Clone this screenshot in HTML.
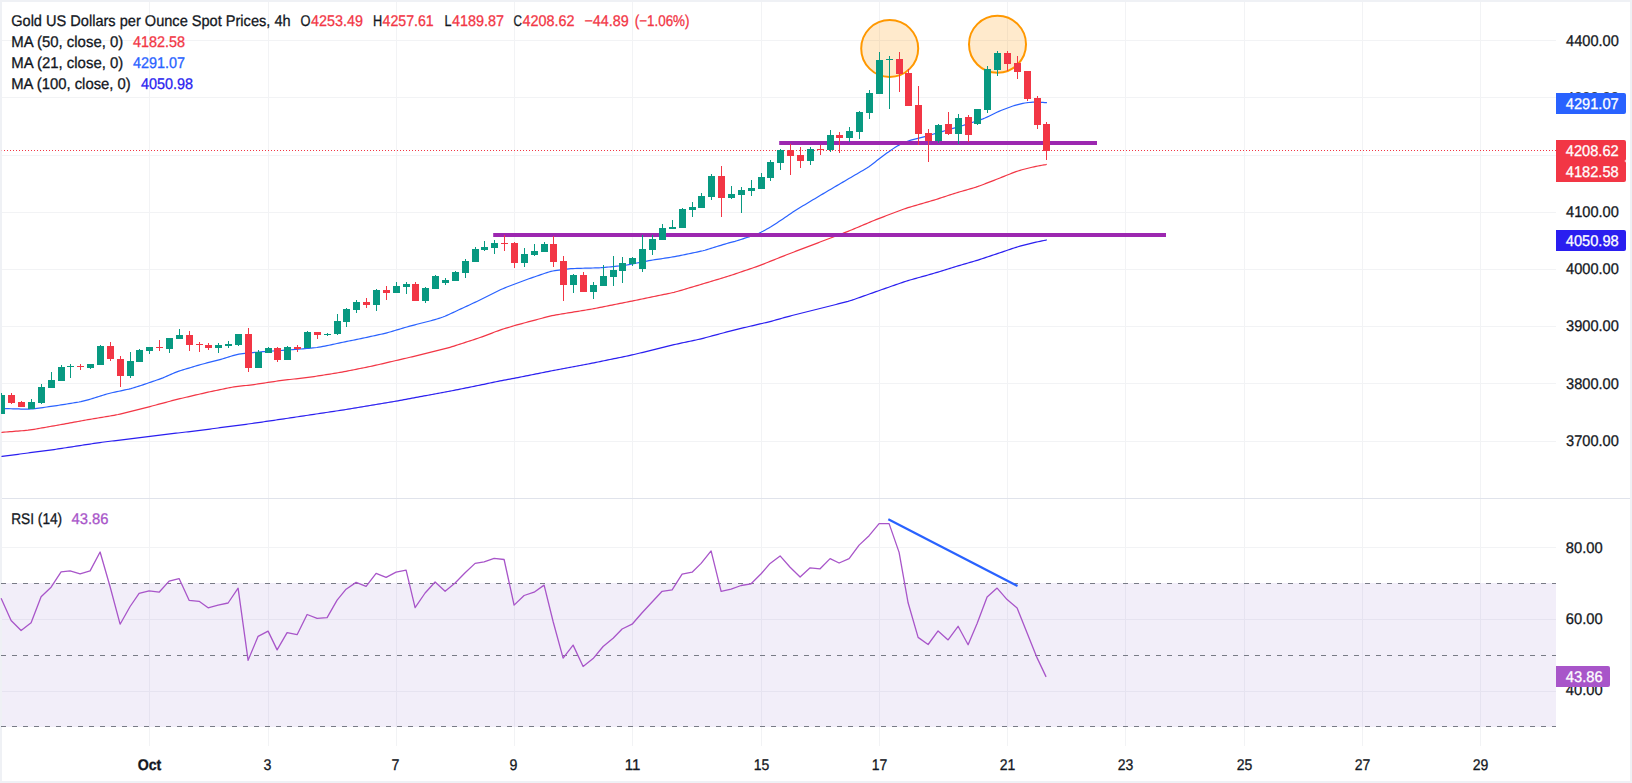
<!DOCTYPE html>
<html lang="en"><head><meta charset="utf-8"><title>Gold US Dollars per Ounce Spot Prices, 4h</title>
<style>html,body{margin:0;padding:0;background:#fff}body{width:1632px;height:783px;overflow:hidden}svg{display:block}text{text-rendering:geometricPrecision;font-family:"Liberation Sans",sans-serif;font-size:15.5px}</style>
</head><body>
<svg width="1632" height="783" viewBox="0 0 1632 783">
<rect x="0" y="0" width="1632" height="783" fill="#ffffff"/>
<path d="M0 0H1632V783H0z M2 2V781H1630V2z" fill="#eff1f5" fill-rule="evenodd"/>
<path d="M149 2h1v744h-1z M268 2h1v744h-1z M396 2h1v744h-1z M514 2h1v744h-1z M632 2h1v744h-1z M761 2h1v744h-1z M879 2h1v744h-1z M1007 2h1v744h-1z M1125 2h1v744h-1z M1244 2h1v744h-1z M1362 2h1v744h-1z M1480 2h1v744h-1z M2 40h1554v1h-1554z M2 97h1554v1h-1554z M2 155h1554v1h-1554z M2 212h1554v1h-1554z M2 269h1554v1h-1554z M2 326h1554v1h-1554z M2 383h1554v1h-1554z M2 441h1554v1h-1554z M2 547h1554v1h-1554z M2 619h1554v1h-1554z M2 691h1554v1h-1554z" fill="#f2f3f5"/>
<rect x="2" y="498" width="1628" height="1" fill="#e0e3eb"/>
<rect x="2" y="583" width="1554" height="144" fill="#7e57c2" fill-opacity="0.1"/>
<line x1="1" y1="583.5" x2="1556" y2="583.5" stroke="#787b86" stroke-width="1" stroke-dasharray="5 6"/>
<line x1="1" y1="655.5" x2="1556" y2="655.5" stroke="#787b86" stroke-width="1" stroke-dasharray="5 6"/>
<line x1="1" y1="726.5" x2="1556" y2="726.5" stroke="#787b86" stroke-width="1" stroke-dasharray="5 6"/>
<path d="M2.0 456.37 L4.0 456.11 L6.0 455.84 L8.0 455.58 L10.0 455.32 L12.0 455.06 L14.0 454.80 L16.0 454.54 L18.0 454.28 L20.0 454.02 L22.0 453.76 L24.0 453.50 L26.0 453.24 L28.0 452.98 L30.0 452.71 L32.0 452.45 L34.0 452.19 L36.0 451.93 L38.0 451.67 L40.0 451.41 L42.0 451.15 L44.0 450.89 L46.0 450.63 L48.0 450.37 L50.0 450.10 L52.0 449.83 L54.0 449.55 L56.0 449.26 L58.0 448.95 L60.0 448.65 L62.0 448.34 L64.0 448.03 L66.0 447.73 L68.0 447.42 L70.0 447.11 L72.0 446.81 L74.0 446.50 L76.0 446.19 L78.0 445.88 L80.0 445.58 L82.0 445.27 L84.0 444.96 L86.0 444.66 L88.0 444.35 L90.0 444.04 L92.0 443.73 L94.0 443.43 L96.0 443.12 L98.0 442.83 L100.0 442.54 L102.0 442.27 L104.0 442.02 L106.0 441.77 L108.0 441.52 L110.0 441.27 L112.0 441.02 L114.0 440.78 L116.0 440.53 L118.0 440.28 L120.0 440.04 L122.0 439.79 L124.0 439.54 L126.0 439.30 L128.0 439.05 L130.0 438.80 L132.0 438.56 L134.0 438.31 L136.0 438.06 L138.0 437.82 L140.0 437.57 L142.0 437.32 L144.0 437.08 L146.0 436.83 L148.0 436.59 L150.0 436.34 L152.0 436.10 L154.0 435.86 L156.0 435.62 L158.0 435.38 L160.0 435.14 L162.0 434.90 L164.0 434.66 L166.0 434.42 L168.0 434.18 L170.0 433.94 L172.0 433.70 L174.0 433.46 L176.0 433.22 L178.0 432.98 L180.0 432.74 L182.0 432.50 L184.0 432.26 L186.0 432.02 L188.0 431.78 L190.0 431.54 L192.0 431.30 L194.0 431.06 L196.0 430.82 L198.0 430.57 L200.0 430.32 L202.0 430.07 L204.0 429.81 L206.0 429.55 L208.0 429.29 L210.0 429.03 L212.0 428.76 L214.0 428.50 L216.0 428.24 L218.0 427.98 L220.0 427.71 L222.0 427.45 L224.0 427.19 L226.0 426.93 L228.0 426.66 L230.0 426.40 L232.0 426.14 L234.0 425.88 L236.0 425.61 L238.0 425.35 L240.0 425.09 L242.0 424.83 L244.0 424.56 L246.0 424.30 L248.0 424.03 L250.0 423.76 L252.0 423.48 L254.0 423.19 L256.0 422.91 L258.0 422.62 L260.0 422.33 L262.0 422.04 L264.0 421.75 L266.0 421.46 L268.0 421.17 L270.0 420.88 L272.0 420.59 L274.0 420.30 L276.0 420.01 L278.0 419.71 L280.0 419.42 L282.0 419.13 L284.0 418.83 L286.0 418.53 L288.0 418.23 L290.0 417.93 L292.0 417.63 L294.0 417.33 L296.0 417.03 L298.0 416.73 L300.0 416.43 L302.0 416.13 L304.0 415.83 L306.0 415.53 L308.0 415.23 L310.0 414.93 L312.0 414.63 L314.0 414.33 L316.0 414.03 L318.0 413.73 L320.0 413.43 L322.0 413.13 L324.0 412.83 L326.0 412.53 L328.0 412.23 L330.0 411.93 L332.0 411.63 L334.0 411.33 L336.0 411.03 L338.0 410.73 L340.0 410.42 L342.0 410.11 L344.0 409.79 L346.0 409.47 L348.0 409.14 L350.0 408.81 L352.0 408.48 L354.0 408.15 L356.0 407.82 L358.0 407.49 L360.0 407.16 L362.0 406.83 L364.0 406.50 L366.0 406.17 L368.0 405.84 L370.0 405.51 L372.0 405.18 L374.0 404.85 L376.0 404.51 L378.0 404.18 L380.0 403.85 L382.0 403.51 L384.0 403.18 L386.0 402.85 L388.0 402.51 L390.0 402.18 L392.0 401.84 L394.0 401.50 L396.0 401.15 L398.0 400.79 L400.0 400.43 L402.0 400.05 L404.0 399.68 L406.0 399.31 L408.0 398.93 L410.0 398.56 L412.0 398.19 L414.0 397.81 L416.0 397.44 L418.0 397.07 L420.0 396.70 L422.0 396.33 L424.0 395.96 L426.0 395.59 L428.0 395.22 L430.0 394.85 L432.0 394.48 L434.0 394.11 L436.0 393.74 L438.0 393.37 L440.0 393.00 L442.0 392.63 L444.0 392.26 L446.0 391.88 L448.0 391.51 L450.0 391.12 L452.0 390.73 L454.0 390.33 L456.0 389.94 L458.0 389.54 L460.0 389.14 L462.0 388.74 L464.0 388.34 L466.0 387.94 L468.0 387.54 L470.0 387.14 L472.0 386.74 L474.0 386.34 L476.0 385.93 L478.0 385.53 L480.0 385.12 L482.0 384.71 L484.0 384.29 L486.0 383.86 L488.0 383.44 L490.0 383.01 L492.0 382.59 L494.0 382.17 L496.0 381.74 L498.0 381.33 L500.0 380.93 L502.0 380.54 L504.0 380.16 L506.0 379.79 L508.0 379.43 L510.0 379.06 L512.0 378.69 L514.0 378.32 L516.0 377.93 L518.0 377.54 L520.0 377.15 L522.0 376.75 L524.0 376.35 L526.0 375.95 L528.0 375.55 L530.0 375.15 L532.0 374.75 L534.0 374.35 L536.0 373.95 L538.0 373.55 L540.0 373.15 L542.0 372.75 L544.0 372.35 L546.0 371.95 L548.0 371.55 L550.0 371.15 L552.0 370.76 L554.0 370.38 L556.0 370.00 L558.0 369.62 L560.0 369.25 L562.0 368.87 L564.0 368.49 L566.0 368.12 L568.0 367.74 L570.0 367.36 L572.0 366.99 L574.0 366.61 L576.0 366.23 L578.0 365.86 L580.0 365.48 L582.0 365.10 L584.0 364.73 L586.0 364.35 L588.0 363.97 L590.0 363.59 L592.0 363.21 L594.0 362.82 L596.0 362.42 L598.0 362.01 L600.0 361.60 L602.0 361.18 L604.0 360.77 L606.0 360.36 L608.0 359.95 L610.0 359.53 L612.0 359.12 L614.0 358.71 L616.0 358.30 L618.0 357.88 L620.0 357.47 L622.0 357.06 L624.0 356.65 L626.0 356.23 L628.0 355.82 L630.0 355.40 L632.0 354.96 L634.0 354.50 L636.0 354.03 L638.0 353.54 L640.0 353.04 L642.0 352.55 L644.0 352.06 L646.0 351.56 L648.0 351.07 L650.0 350.57 L652.0 350.08 L654.0 349.59 L656.0 349.09 L658.0 348.60 L660.0 348.10 L662.0 347.61 L664.0 347.12 L666.0 346.62 L668.0 346.13 L670.0 345.64 L672.0 345.15 L674.0 344.68 L676.0 344.23 L678.0 343.79 L680.0 343.36 L682.0 342.94 L684.0 342.52 L686.0 342.09 L688.0 341.67 L690.0 341.24 L692.0 340.82 L694.0 340.40 L696.0 339.97 L698.0 339.53 L700.0 339.06 L702.0 338.57 L704.0 338.05 L706.0 337.53 L708.0 336.99 L710.0 336.46 L712.0 335.93 L714.0 335.39 L716.0 334.86 L718.0 334.33 L720.0 333.79 L722.0 333.26 L724.0 332.73 L726.0 332.19 L728.0 331.66 L730.0 331.13 L732.0 330.60 L734.0 330.08 L736.0 329.58 L738.0 329.09 L740.0 328.62 L742.0 328.15 L744.0 327.68 L746.0 327.22 L748.0 326.75 L750.0 326.28 L752.0 325.82 L754.0 325.35 L756.0 324.88 L758.0 324.42 L760.0 323.95 L762.0 323.48 L764.0 323.02 L766.0 322.55 L768.0 322.07 L770.0 321.57 L772.0 321.05 L774.0 320.51 L776.0 319.95 L778.0 319.38 L780.0 318.81 L782.0 318.25 L784.0 317.68 L786.0 317.13 L788.0 316.58 L790.0 316.06 L792.0 315.54 L794.0 315.04 L796.0 314.54 L798.0 314.04 L800.0 313.54 L802.0 313.04 L804.0 312.54 L806.0 312.04 L808.0 311.54 L810.0 311.04 L812.0 310.54 L814.0 310.04 L816.0 309.54 L818.0 309.03 L820.0 308.53 L822.0 308.02 L824.0 307.51 L826.0 307.00 L828.0 306.49 L830.0 305.98 L832.0 305.47 L834.0 304.96 L836.0 304.46 L838.0 303.95 L840.0 303.44 L842.0 302.93 L844.0 302.42 L846.0 301.90 L848.0 301.36 L850.0 300.77 L852.0 300.14 L854.0 299.46 L856.0 298.76 L858.0 298.05 L860.0 297.34 L862.0 296.63 L864.0 295.92 L866.0 295.21 L868.0 294.50 L870.0 293.78 L872.0 293.07 L874.0 292.36 L876.0 291.66 L878.0 290.95 L880.0 290.25 L882.0 289.55 L884.0 288.85 L886.0 288.15 L888.0 287.45 L890.0 286.75 L892.0 286.05 L894.0 285.35 L896.0 284.65 L898.0 283.95 L900.0 283.25 L902.0 282.56 L904.0 281.88 L906.0 281.23 L908.0 280.62 L910.0 280.04 L912.0 279.48 L914.0 278.91 L916.0 278.35 L918.0 277.79 L920.0 277.23 L922.0 276.67 L924.0 276.11 L926.0 275.55 L928.0 274.99 L930.0 274.43 L932.0 273.87 L934.0 273.29 L936.0 272.70 L938.0 272.09 L940.0 271.47 L942.0 270.85 L944.0 270.22 L946.0 269.59 L948.0 268.96 L950.0 268.33 L952.0 267.71 L954.0 267.09 L956.0 266.48 L958.0 265.89 L960.0 265.31 L962.0 264.73 L964.0 264.16 L966.0 263.59 L968.0 263.02 L970.0 262.45 L972.0 261.87 L974.0 261.29 L976.0 260.69 L978.0 260.06 L980.0 259.42 L982.0 258.76 L984.0 258.09 L986.0 257.42 L988.0 256.76 L990.0 256.09 L992.0 255.42 L994.0 254.75 L996.0 254.08 L998.0 253.41 L1000.0 252.73 L1002.0 252.06 L1004.0 251.38 L1006.0 250.71 L1008.0 250.03 L1010.0 249.36 L1012.0 248.69 L1014.0 248.02 L1016.0 247.38 L1018.0 246.76 L1020.0 246.19 L1022.0 245.65 L1024.0 245.12 L1026.0 244.60 L1028.0 244.09 L1030.0 243.58 L1032.0 243.09 L1034.0 242.63 L1036.0 242.18 L1038.0 241.75 L1040.0 241.33 L1042.0 240.91 L1044.0 240.52 L1046.0 240.17 L1046.2 240.00" fill="none" stroke="#2a1ef0" stroke-width="1.2" stroke-linejoin="round" stroke-linecap="round"/>
<path d="M2.0 432.33 L4.0 432.17 L6.0 432.01 L8.0 431.85 L10.0 431.69 L12.0 431.53 L14.0 431.37 L16.0 431.21 L18.0 431.05 L20.0 430.89 L22.0 430.73 L24.0 430.56 L26.0 430.39 L28.0 430.19 L30.0 429.94 L32.0 429.65 L34.0 429.33 L36.0 428.98 L38.0 428.63 L40.0 428.28 L42.0 427.93 L44.0 427.58 L46.0 427.23 L48.0 426.88 L50.0 426.53 L52.0 426.18 L54.0 425.83 L56.0 425.48 L58.0 425.13 L60.0 424.77 L62.0 424.41 L64.0 424.04 L66.0 423.67 L68.0 423.31 L70.0 422.94 L72.0 422.57 L74.0 422.21 L76.0 421.84 L78.0 421.47 L80.0 421.11 L82.0 420.74 L84.0 420.38 L86.0 420.01 L88.0 419.66 L90.0 419.31 L92.0 418.97 L94.0 418.64 L96.0 418.30 L98.0 417.97 L100.0 417.64 L102.0 417.30 L104.0 416.97 L106.0 416.64 L108.0 416.30 L110.0 415.97 L112.0 415.63 L114.0 415.29 L116.0 414.93 L118.0 414.53 L120.0 414.08 L122.0 413.61 L124.0 413.11 L126.0 412.61 L128.0 412.11 L130.0 411.61 L132.0 411.11 L134.0 410.61 L136.0 410.11 L138.0 409.61 L140.0 409.11 L142.0 408.61 L144.0 408.11 L146.0 407.60 L148.0 407.09 L150.0 406.56 L152.0 406.03 L154.0 405.50 L156.0 404.97 L158.0 404.43 L160.0 403.90 L162.0 403.37 L164.0 402.83 L166.0 402.30 L168.0 401.77 L170.0 401.23 L172.0 400.70 L174.0 400.18 L176.0 399.66 L178.0 399.17 L180.0 398.69 L182.0 398.22 L184.0 397.75 L186.0 397.28 L188.0 396.81 L190.0 396.35 L192.0 395.88 L194.0 395.41 L196.0 394.95 L198.0 394.48 L200.0 394.01 L202.0 393.55 L204.0 393.09 L206.0 392.64 L208.0 392.21 L210.0 391.78 L212.0 391.36 L214.0 390.95 L216.0 390.53 L218.0 390.11 L220.0 389.70 L222.0 389.28 L224.0 388.86 L226.0 388.45 L228.0 388.03 L230.0 387.62 L232.0 387.22 L234.0 386.85 L236.0 386.54 L238.0 386.28 L240.0 386.07 L242.0 385.88 L244.0 385.70 L246.0 385.51 L248.0 385.31 L250.0 385.08 L252.0 384.82 L254.0 384.54 L256.0 384.25 L258.0 383.95 L260.0 383.65 L262.0 383.35 L264.0 383.05 L266.0 382.75 L268.0 382.45 L270.0 382.15 L272.0 381.85 L274.0 381.55 L276.0 381.25 L278.0 380.96 L280.0 380.68 L282.0 380.42 L284.0 380.17 L286.0 379.94 L288.0 379.71 L290.0 379.48 L292.0 379.25 L294.0 379.02 L296.0 378.79 L298.0 378.56 L300.0 378.33 L302.0 378.10 L304.0 377.87 L306.0 377.63 L308.0 377.40 L310.0 377.15 L312.0 376.88 L314.0 376.58 L316.0 376.27 L318.0 375.96 L320.0 375.64 L322.0 375.32 L324.0 375.00 L326.0 374.68 L328.0 374.36 L330.0 374.04 L332.0 373.72 L334.0 373.40 L336.0 373.08 L338.0 372.75 L340.0 372.42 L342.0 372.07 L344.0 371.70 L346.0 371.31 L348.0 370.92 L350.0 370.52 L352.0 370.12 L354.0 369.72 L356.0 369.32 L358.0 368.92 L360.0 368.52 L362.0 368.12 L364.0 367.72 L366.0 367.32 L368.0 366.91 L370.0 366.51 L372.0 366.09 L374.0 365.65 L376.0 365.20 L378.0 364.74 L380.0 364.27 L382.0 363.81 L384.0 363.34 L386.0 362.87 L388.0 362.41 L390.0 361.94 L392.0 361.47 L394.0 361.01 L396.0 360.54 L398.0 360.07 L400.0 359.61 L402.0 359.14 L404.0 358.67 L406.0 358.21 L408.0 357.74 L410.0 357.27 L412.0 356.81 L414.0 356.34 L416.0 355.87 L418.0 355.39 L420.0 354.91 L422.0 354.41 L424.0 353.92 L426.0 353.42 L428.0 352.92 L430.0 352.42 L432.0 351.92 L434.0 351.42 L436.0 350.92 L438.0 350.42 L440.0 349.92 L442.0 349.42 L444.0 348.91 L446.0 348.40 L448.0 347.87 L450.0 347.30 L452.0 346.69 L454.0 346.06 L456.0 345.41 L458.0 344.76 L460.0 344.11 L462.0 343.46 L464.0 342.81 L466.0 342.16 L468.0 341.51 L470.0 340.86 L472.0 340.21 L474.0 339.56 L476.0 338.91 L478.0 338.24 L480.0 337.55 L482.0 336.83 L484.0 336.09 L486.0 335.34 L488.0 334.58 L490.0 333.82 L492.0 333.07 L494.0 332.31 L496.0 331.56 L498.0 330.82 L500.0 330.11 L502.0 329.44 L504.0 328.80 L506.0 328.18 L508.0 327.57 L510.0 326.95 L512.0 326.35 L514.0 325.75 L516.0 325.18 L518.0 324.63 L520.0 324.09 L522.0 323.55 L524.0 323.02 L526.0 322.49 L528.0 321.95 L530.0 321.42 L532.0 320.89 L534.0 320.35 L536.0 319.82 L538.0 319.29 L540.0 318.75 L542.0 318.22 L544.0 317.69 L546.0 317.16 L548.0 316.64 L550.0 316.14 L552.0 315.69 L554.0 315.29 L556.0 314.94 L558.0 314.60 L560.0 314.27 L562.0 313.94 L564.0 313.61 L566.0 313.28 L568.0 312.95 L570.0 312.62 L572.0 312.29 L574.0 311.96 L576.0 311.63 L578.0 311.30 L580.0 310.97 L582.0 310.64 L584.0 310.31 L586.0 309.98 L588.0 309.65 L590.0 309.32 L592.0 308.97 L594.0 308.61 L596.0 308.23 L598.0 307.84 L600.0 307.44 L602.0 307.04 L604.0 306.64 L606.0 306.24 L608.0 305.84 L610.0 305.44 L612.0 305.04 L614.0 304.64 L616.0 304.24 L618.0 303.84 L620.0 303.44 L622.0 303.04 L624.0 302.64 L626.0 302.24 L628.0 301.84 L630.0 301.44 L632.0 301.04 L634.0 300.63 L636.0 300.22 L638.0 299.81 L640.0 299.40 L642.0 298.99 L644.0 298.58 L646.0 298.17 L648.0 297.75 L650.0 297.34 L652.0 296.93 L654.0 296.52 L656.0 296.11 L658.0 295.70 L660.0 295.28 L662.0 294.87 L664.0 294.46 L666.0 294.05 L668.0 293.63 L670.0 293.22 L672.0 292.78 L674.0 292.31 L676.0 291.79 L678.0 291.23 L680.0 290.65 L682.0 290.06 L684.0 289.46 L686.0 288.87 L688.0 288.28 L690.0 287.68 L692.0 287.09 L694.0 286.50 L696.0 285.90 L698.0 285.31 L700.0 284.71 L702.0 284.12 L704.0 283.52 L706.0 282.92 L708.0 282.32 L710.0 281.72 L712.0 281.12 L714.0 280.52 L716.0 279.92 L718.0 279.32 L720.0 278.72 L722.0 278.12 L724.0 277.52 L726.0 276.91 L728.0 276.29 L730.0 275.66 L732.0 275.00 L734.0 274.33 L736.0 273.65 L738.0 272.98 L740.0 272.30 L742.0 271.62 L744.0 270.94 L746.0 270.26 L748.0 269.58 L750.0 268.90 L752.0 268.21 L754.0 267.53 L756.0 266.84 L758.0 266.13 L760.0 265.38 L762.0 264.61 L764.0 263.82 L766.0 263.03 L768.0 262.23 L770.0 261.43 L772.0 260.63 L774.0 259.83 L776.0 259.03 L778.0 258.23 L780.0 257.43 L782.0 256.63 L784.0 255.83 L786.0 255.03 L788.0 254.25 L790.0 253.47 L792.0 252.70 L794.0 251.94 L796.0 251.18 L798.0 250.42 L800.0 249.66 L802.0 248.90 L804.0 248.14 L806.0 247.38 L808.0 246.62 L810.0 245.86 L812.0 245.10 L814.0 244.34 L816.0 243.58 L818.0 242.82 L820.0 242.06 L822.0 241.30 L824.0 240.54 L826.0 239.78 L828.0 239.02 L830.0 238.26 L832.0 237.50 L834.0 236.74 L836.0 235.98 L838.0 235.22 L840.0 234.46 L842.0 233.70 L844.0 232.93 L846.0 232.15 L848.0 231.35 L850.0 230.54 L852.0 229.70 L854.0 228.87 L856.0 228.03 L858.0 227.19 L860.0 226.35 L862.0 225.51 L864.0 224.67 L866.0 223.83 L868.0 222.99 L870.0 222.15 L872.0 221.31 L874.0 220.48 L876.0 219.66 L878.0 218.87 L880.0 218.09 L882.0 217.33 L884.0 216.57 L886.0 215.81 L888.0 215.05 L890.0 214.29 L892.0 213.53 L894.0 212.77 L896.0 212.01 L898.0 211.25 L900.0 210.49 L902.0 209.74 L904.0 209.01 L906.0 208.32 L908.0 207.67 L910.0 207.06 L912.0 206.47 L914.0 205.89 L916.0 205.31 L918.0 204.73 L920.0 204.15 L922.0 203.57 L924.0 202.99 L926.0 202.41 L928.0 201.83 L930.0 201.25 L932.0 200.66 L934.0 200.07 L936.0 199.45 L938.0 198.82 L940.0 198.17 L942.0 197.51 L944.0 196.86 L946.0 196.20 L948.0 195.54 L950.0 194.89 L952.0 194.23 L954.0 193.59 L956.0 192.97 L958.0 192.37 L960.0 191.78 L962.0 191.21 L964.0 190.63 L966.0 190.06 L968.0 189.49 L970.0 188.92 L972.0 188.34 L974.0 187.74 L976.0 187.11 L978.0 186.43 L980.0 185.70 L982.0 184.95 L984.0 184.19 L986.0 183.42 L988.0 182.65 L990.0 181.89 L992.0 181.11 L994.0 180.34 L996.0 179.55 L998.0 178.75 L1000.0 177.96 L1002.0 177.16 L1004.0 176.36 L1006.0 175.56 L1008.0 174.76 L1010.0 173.96 L1012.0 173.16 L1014.0 172.38 L1016.0 171.63 L1018.0 170.95 L1020.0 170.33 L1022.0 169.77 L1024.0 169.24 L1026.0 168.72 L1028.0 168.21 L1030.0 167.71 L1032.0 167.23 L1034.0 166.79 L1036.0 166.38 L1038.0 165.99 L1040.0 165.60 L1042.0 165.23 L1044.0 164.88 L1046.0 164.56 L1046.2 164.41" fill="none" stroke="#f23645" stroke-width="1.2" stroke-linejoin="round" stroke-linecap="round"/>
<path d="M4.9 408.55 L6.9 408.61 L8.9 408.67 L10.9 408.73 L12.9 408.79 L14.9 408.85 L16.9 408.91 L18.9 408.97 L20.9 409.03 L22.9 409.09 L24.9 409.14 L26.9 409.16 L28.9 409.12 L30.9 409.00 L32.9 408.82 L34.9 408.59 L36.9 408.34 L38.9 408.09 L40.9 407.82 L42.9 407.55 L44.9 407.28 L46.9 406.99 L48.9 406.70 L50.9 406.41 L52.9 406.12 L54.9 405.83 L56.9 405.54 L58.9 405.25 L60.9 404.94 L62.9 404.63 L64.9 404.31 L66.9 403.99 L68.9 403.67 L70.9 403.35 L72.9 403.03 L74.9 402.71 L76.9 402.37 L78.9 402.01 L80.9 401.60 L82.9 401.14 L84.9 400.65 L86.9 400.14 L88.9 399.60 L90.9 399.02 L92.9 398.40 L94.9 397.76 L96.9 397.11 L98.9 396.47 L100.9 395.84 L102.9 395.22 L104.9 394.62 L106.9 394.04 L108.9 393.48 L110.9 392.97 L112.9 392.51 L114.9 392.07 L116.9 391.65 L118.9 391.23 L120.9 390.81 L122.9 390.39 L124.9 389.96 L126.9 389.52 L128.9 389.06 L130.9 388.55 L132.9 387.99 L134.9 387.40 L136.9 386.80 L138.9 386.17 L140.9 385.52 L142.9 384.85 L144.9 384.16 L146.9 383.46 L148.9 382.76 L150.9 382.07 L152.9 381.39 L154.9 380.70 L156.9 380.02 L158.9 379.33 L160.9 378.61 L162.9 377.85 L164.9 377.02 L166.9 376.15 L168.9 375.25 L170.9 374.35 L172.9 373.46 L174.9 372.60 L176.9 371.82 L178.9 371.12 L180.9 370.48 L182.9 369.86 L184.9 369.26 L186.9 368.66 L188.9 368.06 L190.9 367.46 L192.9 366.86 L194.9 366.26 L196.9 365.67 L198.9 365.08 L200.9 364.52 L202.9 363.98 L204.9 363.46 L206.9 362.95 L208.9 362.45 L210.9 361.95 L212.9 361.45 L214.9 360.95 L216.9 360.44 L218.9 359.92 L220.9 359.37 L222.9 358.79 L224.9 358.18 L226.9 357.55 L228.9 356.92 L230.9 356.30 L232.9 355.68 L234.9 355.09 L236.9 354.58 L238.9 354.17 L240.9 353.87 L242.9 353.64 L244.9 353.44 L246.9 353.25 L248.9 353.05 L250.9 352.86 L252.9 352.65 L254.9 352.45 L256.9 352.25 L258.9 352.05 L260.9 351.86 L262.9 351.69 L264.9 351.54 L266.9 351.40 L268.9 351.27 L270.9 351.14 L272.9 351.01 L274.9 350.88 L276.9 350.75 L278.9 350.62 L280.9 350.48 L282.9 350.34 L284.9 350.20 L286.9 350.05 L288.9 349.90 L290.9 349.75 L292.9 349.60 L294.9 349.45 L296.9 349.30 L298.9 349.15 L300.9 348.99 L302.9 348.83 L304.9 348.67 L306.9 348.50 L308.9 348.33 L310.9 348.15 L312.9 347.96 L314.9 347.74 L316.9 347.48 L318.9 347.16 L320.9 346.82 L322.9 346.45 L324.9 346.08 L326.9 345.69 L328.9 345.27 L330.9 344.85 L332.9 344.41 L334.9 343.97 L336.9 343.53 L338.9 343.10 L340.9 342.67 L342.9 342.25 L344.9 341.84 L346.9 341.43 L348.9 341.03 L350.9 340.63 L352.9 340.23 L354.9 339.83 L356.9 339.43 L358.9 339.03 L360.9 338.62 L362.9 338.20 L364.9 337.77 L366.9 337.33 L368.9 336.89 L370.9 336.45 L372.9 336.01 L374.9 335.57 L376.9 335.13 L378.9 334.69 L380.9 334.25 L382.9 333.80 L384.9 333.33 L386.9 332.83 L388.9 332.29 L390.9 331.72 L392.9 331.12 L394.9 330.53 L396.9 329.93 L398.9 329.33 L400.9 328.73 L402.9 328.13 L404.9 327.54 L406.9 326.97 L408.9 326.42 L410.9 325.88 L412.9 325.35 L414.9 324.82 L416.9 324.29 L418.9 323.76 L420.9 323.24 L422.9 322.72 L424.9 322.21 L426.9 321.71 L428.9 321.21 L430.9 320.71 L432.9 320.19 L434.9 319.63 L436.9 319.03 L438.9 318.40 L440.9 317.73 L442.9 317.02 L444.9 316.23 L446.9 315.37 L448.9 314.46 L450.9 313.54 L452.9 312.61 L454.9 311.69 L456.9 310.76 L458.9 309.83 L460.9 308.90 L462.9 307.97 L464.9 307.04 L466.9 306.11 L468.9 305.19 L470.9 304.26 L472.9 303.33 L474.9 302.39 L476.9 301.45 L478.9 300.48 L480.9 299.50 L482.9 298.51 L484.9 297.51 L486.9 296.51 L488.9 295.51 L490.9 294.51 L492.9 293.51 L494.9 292.51 L496.9 291.52 L498.9 290.53 L500.9 289.58 L502.9 288.68 L504.9 287.83 L506.9 287.04 L508.9 286.27 L510.9 285.51 L512.9 284.75 L514.9 283.99 L516.9 283.23 L518.9 282.47 L520.9 281.71 L522.9 280.95 L524.9 280.20 L526.9 279.47 L528.9 278.76 L530.9 278.07 L532.9 277.38 L534.9 276.70 L536.9 276.02 L538.9 275.34 L540.9 274.66 L542.9 273.98 L544.9 273.30 L546.9 272.63 L548.9 272.00 L550.9 271.44 L552.9 270.99 L554.9 270.64 L556.9 270.36 L558.9 270.10 L560.9 269.85 L562.9 269.60 L564.9 269.35 L566.9 269.11 L568.9 268.89 L570.9 268.70 L572.9 268.57 L574.9 268.48 L576.9 268.42 L578.9 268.36 L580.9 268.31 L582.9 268.26 L584.9 268.21 L586.9 268.16 L588.9 268.11 L590.9 268.06 L592.9 268.01 L594.9 267.96 L596.9 267.90 L598.9 267.82 L600.9 267.72 L602.9 267.57 L604.9 267.39 L606.9 267.20 L608.9 267.00 L610.9 266.80 L612.9 266.60 L614.9 266.40 L616.9 266.20 L618.9 266.00 L620.9 265.79 L622.9 265.56 L624.9 265.29 L626.9 264.97 L628.9 264.61 L630.9 264.23 L632.9 263.83 L634.9 263.43 L636.9 263.03 L638.9 262.63 L640.9 262.23 L642.9 261.83 L644.9 261.43 L646.9 261.04 L648.9 260.67 L650.9 260.32 L652.9 260.00 L654.9 259.69 L656.9 259.39 L658.9 259.09 L660.9 258.79 L662.9 258.49 L664.9 258.19 L666.9 257.89 L668.9 257.58 L670.9 257.27 L672.9 256.95 L674.9 256.60 L676.9 256.21 L678.9 255.81 L680.9 255.40 L682.9 254.98 L684.9 254.57 L686.9 254.15 L688.9 253.73 L690.9 253.32 L692.9 252.90 L694.9 252.48 L696.9 252.06 L698.9 251.64 L700.9 251.20 L702.9 250.73 L704.9 250.21 L706.9 249.63 L708.9 249.03 L710.9 248.41 L712.9 247.79 L714.9 247.17 L716.9 246.55 L718.9 245.93 L720.9 245.31 L722.9 244.69 L724.9 244.08 L726.9 243.47 L728.9 242.88 L730.9 242.34 L732.9 241.84 L734.9 241.33 L736.9 240.75 L738.9 240.13 L740.9 239.47 L742.9 238.81 L744.9 238.14 L746.9 237.47 L748.9 236.81 L750.9 236.14 L752.9 235.47 L754.9 234.79 L756.9 234.06 L758.9 233.25 L760.9 232.32 L762.9 231.29 L764.9 230.19 L766.9 229.07 L768.9 227.93 L770.9 226.77 L772.9 225.55 L774.9 224.27 L776.9 222.95 L778.9 221.60 L780.9 220.24 L782.9 218.89 L784.9 217.53 L786.9 216.17 L788.9 214.82 L790.9 213.46 L792.9 212.12 L794.9 210.80 L796.9 209.52 L798.9 208.28 L800.9 207.06 L802.9 205.86 L804.9 204.66 L806.9 203.46 L808.9 202.26 L810.9 201.06 L812.9 199.86 L814.9 198.66 L816.9 197.46 L818.9 196.26 L820.9 195.07 L822.9 193.89 L824.9 192.70 L826.9 191.53 L828.9 190.35 L830.9 189.17 L832.9 188.00 L834.9 186.82 L836.9 185.64 L838.9 184.47 L840.9 183.29 L842.9 182.12 L844.9 180.94 L846.9 179.76 L848.9 178.59 L850.9 177.42 L852.9 176.25 L854.9 175.08 L856.9 173.92 L858.9 172.75 L860.9 171.58 L862.9 170.41 L864.9 169.23 L866.9 168.00 L868.9 166.70 L870.9 165.27 L872.9 163.75 L874.9 162.17 L876.9 160.58 L878.9 159.01 L880.9 157.48 L882.9 155.99 L884.9 154.53 L886.9 153.09 L888.9 151.67 L890.9 150.26 L892.9 148.88 L894.9 147.54 L896.9 146.27 L898.9 145.12 L900.9 144.09 L902.9 143.15 L904.9 142.27 L906.9 141.47 L908.9 140.76 L910.9 140.16 L912.9 139.62 L914.9 139.11 L916.9 138.61 L918.9 138.11 L920.9 137.60 L922.9 137.09 L924.9 136.55 L926.9 136.00 L928.9 135.43 L930.9 134.85 L932.9 134.26 L934.9 133.68 L936.9 133.10 L938.9 132.51 L940.9 131.93 L942.9 131.35 L944.9 130.76 L946.9 130.18 L948.9 129.60 L950.9 129.01 L952.9 128.43 L954.9 127.85 L956.9 127.26 L958.9 126.68 L960.9 126.09 L962.9 125.49 L964.9 124.88 L966.9 124.24 L968.9 123.58 L970.9 122.92 L972.9 122.25 L974.9 121.59 L976.9 120.92 L978.9 120.25 L980.9 119.56 L982.9 118.84 L984.9 118.04 L986.9 117.15 L988.9 116.20 L990.9 115.21 L992.9 114.22 L994.9 113.24 L996.9 112.29 L998.9 111.40 L1000.9 110.57 L1002.9 109.77 L1004.9 108.98 L1006.9 108.21 L1008.9 107.44 L1010.9 106.70 L1012.9 106.02 L1014.9 105.41 L1016.9 104.85 L1018.9 104.32 L1020.9 103.83 L1022.9 103.38 L1024.9 103.00 L1026.9 102.72 L1028.9 102.50 L1030.9 102.34 L1032.9 102.22 L1034.9 102.16 L1036.9 102.18 L1038.9 102.25 L1040.9 102.35 L1042.9 102.46 L1044.9 102.57 L1046.5 102.67" fill="none" stroke="#2962ff" stroke-width="1.2" stroke-linejoin="round" stroke-linecap="round"/>
<circle cx="889.7" cy="48.5" r="28.5" fill="#ff9800" fill-opacity="0.2" stroke="#ff9800" stroke-width="2"/>
<circle cx="997.5" cy="44.3" r="28.5" fill="#ff9800" fill-opacity="0.2" stroke="#ff9800" stroke-width="2"/>
<line x1="493.2" y1="235" x2="1166" y2="235" stroke="#9c27b0" stroke-width="4"/>
<line x1="779.2" y1="143" x2="1097" y2="143" stroke="#9c27b0" stroke-width="4"/>
<rect x="1" y="150" width="1" height="1" fill="#f23645" fill-opacity="0.3"/>
<line x1="4" y1="150.5" x2="1556" y2="150.5" stroke="#f23645" stroke-width="1" stroke-dasharray="1 2"/>
<path d="M1 395H5V414H1zM1 393h1V414h-1zM28 402H35V409H28zM31 399h1V409h-1zM38 387H45V403H38zM41 384h1V404h-1zM48 380H55V388H48zM51 372h1V388h-1zM58 367H65V381H58zM61 365h1V381h-1zM67 366H74V367H67zM70 364h1V378h-1zM87 364H94V368H87zM90 364h1V369h-1zM97 346H104V365H97zM100 345h1V365h-1zM127 361H134V376H127zM130 352h1V378h-1zM136 350H143V362H136zM139 349h1V362h-1zM146 347H153V351H146zM149 347h1V354h-1zM166 338H173V349H166zM169 338h1V353h-1zM176 335H183V339H176zM179 329h1V339h-1zM215 345H222V348H215zM218 343h1V353h-1zM225 344H232V346H225zM228 341h1V348h-1zM235 334H242V345H235zM238 334h1V346h-1zM255 352H262V368H255zM258 350h1V368h-1zM265 348H272V353H265zM268 347h1V353h-1zM284 347H291V360H284zM287 346h1V360h-1zM304 332H311V348H304zM307 331h1V348h-1zM324 334H331V335H324zM327 333h1V336h-1zM334 321H341V334H334zM337 314h1V335h-1zM343 309H350V322H343zM346 308h1V327h-1zM353 302H360V310H353zM356 300h1V313h-1zM373 290H380V305H373zM376 289h1V311h-1zM393 286H400V293H393zM396 282h1V293h-1zM403 284H410V287H403zM406 282h1V294h-1zM422 288H429V301H422zM425 287h1V303h-1zM432 276H439V289H432zM435 275h1V289h-1zM442 280H449V283H442zM445 278h1V285h-1zM452 272H459V281H452zM455 271h1V281h-1zM462 261H469V273H462zM465 259h1V278h-1zM472 249H479V262H472zM475 247h1V262h-1zM481 247H488V250H481zM484 241h1V251h-1zM491 243H498V248H491zM494 240h1V254h-1zM521 254H528V263H521zM524 248h1V267h-1zM531 251H538V255H531zM534 244h1V256h-1zM541 244H548V252H541zM544 242h1V252h-1zM570 275H577V285H570zM573 274h1V293h-1zM590 285H597V292H590zM593 282h1V299h-1zM600 276H607V286H600zM603 265h1V286h-1zM610 270H617V277H610zM613 256h1V286h-1zM619 263H626V271H619zM622 257h1V283h-1zM629 258H636V264H629zM632 257h1V266h-1zM639 249H646V269H639zM642 235h1V272h-1zM649 239H656V250H649zM652 235h1V255h-1zM659 228H666V240H659zM662 224h1V240h-1zM669 227H676V229H669zM672 220h1V229h-1zM679 209H686V228H679zM682 208h1V228h-1zM689 207H696V210H689zM692 202h1V217h-1zM698 196H705V208H698zM701 193h1V208h-1zM708 176H715V197H708zM711 174h1V200h-1zM728 194H735V198H728zM731 186h1V199h-1zM738 190H745V195H738zM741 187h1V213h-1zM748 188H755V191H748zM751 180h1V196h-1zM758 177H765V189H758zM761 173h1V189h-1zM767 162H774V178H767zM770 160h1V181h-1zM777 150H784V163H777zM780 149h1V170h-1zM807 149H814V161H807zM810 147h1V165h-1zM827 135H834V150H827zM830 130h1V152h-1zM846 131H853V138H846zM849 127h1V142h-1zM856 112H863V132H856zM859 111h1V139h-1zM866 93H873V113H866zM869 90h1V119h-1zM876 60H883V94H876zM879 52h1V94h-1zM886 59H893V60H886zM889 56h1V109h-1zM935 125H942V141H935zM938 124h1V143h-1zM955 118H962V134H955zM958 114h1V144h-1zM974 109H981V124H974zM977 109h1V125h-1zM984 69H991V110H984zM987 66h1V113h-1zM994 53H1001V70H994zM997 51h1V76h-1z" fill="#089981"/>
<path d="M8 395H15V403H8zM11 393h1V404h-1zM18 402H25V407H18zM21 401h1V407h-1zM77 366H84V367H77zM80 364h1V370h-1zM107 346H114V359H107zM110 342h1V361h-1zM117 359H124V376H117zM120 356h1V387h-1zM156 347H163V348H156zM159 340h1V351h-1zM186 335H193V345H186zM189 331h1V351h-1zM196 344H203V345H196zM199 342h1V352h-1zM205 345H212V348H205zM208 343h1V350h-1zM245 334H252V368H245zM248 328h1V372h-1zM274 348H281V360H274zM277 347h1V362h-1zM294 347H301V349H294zM297 345h1V352h-1zM314 332H321V335H314zM317 332h1V339h-1zM363 302H370V305H363zM366 298h1V308h-1zM383 290H390V293H383zM386 286h1V300h-1zM412 284H419V301H412zM415 282h1V301h-1zM501 243H508V244H501zM504 235h1V251h-1zM511 243H518V263H511zM514 242h1V268h-1zM550 244H557V262H550zM553 236h1V267h-1zM560 261H567V285H560zM563 256h1V301h-1zM580 275H587V292H580zM583 272h1V292h-1zM718 176H725V198H718zM721 166h1V217h-1zM787 150H794V156H787zM790 144h1V175h-1zM797 155H804V161H797zM800 147h1V168h-1zM817 149H824V150H817zM820 145h1V155h-1zM836 135H843V138H836zM839 132h1V153h-1zM896 59H903V74H896zM899 52h1V92h-1zM905 73H912V106H905zM908 69h1V106h-1zM915 105H922V134H915zM918 86h1V145h-1zM925 133H932V141H925zM928 129h1V162h-1zM945 124H952V134H945zM948 112h1V135h-1zM965 117H972V135H965zM968 115h1V142h-1zM1004 53H1011V64H1004zM1007 51h1V71h-1zM1014 63H1021V72H1014zM1017 56h1V79h-1zM1024 71H1031V99H1024zM1027 71h1V101h-1zM1034 98H1041V125H1034zM1037 96h1V129h-1zM1043 124H1050V151H1043zM1046 122h1V160h-1z" fill="#f23645"/>
<path d="M1.1 598.2 L11.1 620.5 L21.1 630.5 L31.1 622.8 L41.1 596.8 L51.1 587.2 L61.1 571.8 L70.1 570.9 L80.1 573.8 L90.1 570.9 L100.1 552.0 L110.1 586.8 L120.1 624.2 L130.1 606.5 L139.1 593.4 L149.1 590.9 L159.1 592.2 L169.1 581.1 L179.1 578.6 L189.1 600.3 L199.1 601.3 L208.1 607.8 L218.1 605.1 L228.1 603.0 L238.1 588.2 L248.1 660.3 L258.1 636.3 L268.1 631.1 L277.1 649.9 L287.1 632.6 L297.1 634.7 L307.1 614.5 L317.1 618.4 L327.1 617.6 L337.1 600.1 L346.1 589.2 L356.1 582.4 L366.1 586.3 L376.1 573.4 L386.1 577.4 L396.1 572.2 L406.1 570.1 L415.1 607.6 L425.1 593.0 L435.1 582.0 L445.1 591.3 L455.1 583.0 L465.1 572.8 L475.1 563.4 L484.1 561.8 L494.1 558.4 L504.1 559.5 L514.1 605.1 L524.1 595.5 L534.1 592.2 L544.1 585.1 L553.1 621.5 L563.1 658.2 L573.1 645.1 L583.1 666.5 L593.1 658.6 L603.1 646.5 L613.1 638.2 L622.1 629.0 L632.1 624.2 L642.1 612.8 L652.1 602.0 L662.1 591.3 L672.1 589.9 L682.1 574.2 L692.1 572.2 L701.1 563.4 L711.1 550.9 L721.1 591.3 L731.1 589.2 L741.1 585.5 L751.1 583.8 L761.1 573.8 L770.1 563.4 L780.1 555.9 L790.1 567.2 L800.1 577.0 L810.1 567.8 L820.1 568.8 L830.1 558.6 L839.1 563.0 L849.1 558.6 L859.1 545.1 L869.1 535.7 L879.1 523.6 L889.1 523.6 L899.1 552.4 L908.1 602.8 L918.1 637.4 L928.1 644.5 L938.1 630.9 L948.1 639.9 L958.1 626.3 L968.1 644.7 L977.1 623.5 L987.1 597.1 L997.1 588.1 L1007.1 599.6 L1017.1 607.9 L1027.1 632.9 L1037.1 657.9 L1046.1 676.9" fill="none" stroke="#a855c9" stroke-width="1.3" stroke-linejoin="round"/>
<line x1="888.3" y1="519.2" x2="1017.5" y2="586" stroke="#2962ff" stroke-width="2.2"/>
<text x="11.2" y="25.5" fill="#131722" stroke="#131722" stroke-width="0.3" textLength="279.4" lengthAdjust="spacingAndGlyphs">Gold US Dollars per Ounce Spot Prices, 4h</text>
<text x="300.6" y="25.5" fill="#131722" stroke="#131722" stroke-width="0.3" textLength="10" lengthAdjust="spacingAndGlyphs">O</text>
<text x="311.1" y="25.5" fill="#f23645" stroke="#f23645" stroke-width="0.3" textLength="51.8" lengthAdjust="spacingAndGlyphs">4253.49</text>
<text x="372.9" y="25.5" fill="#131722" stroke="#131722" stroke-width="0.3" textLength="9.2" lengthAdjust="spacingAndGlyphs">H</text>
<text x="382.5" y="25.5" fill="#f23645" stroke="#f23645" stroke-width="0.3" textLength="51.2" lengthAdjust="spacingAndGlyphs">4257.61</text>
<text x="444.5" y="25.5" fill="#131722" stroke="#131722" stroke-width="0.3" textLength="7" lengthAdjust="spacingAndGlyphs">L</text>
<text x="452" y="25.5" fill="#f23645" stroke="#f23645" stroke-width="0.3" textLength="52" lengthAdjust="spacingAndGlyphs">4189.87</text>
<text x="513.6" y="25.5" fill="#131722" stroke="#131722" stroke-width="0.3" textLength="8.4" lengthAdjust="spacingAndGlyphs">C</text>
<text x="522.4" y="25.5" fill="#f23645" stroke="#f23645" stroke-width="0.3" textLength="52" lengthAdjust="spacingAndGlyphs">4208.62</text>
<text x="584.5" y="25.5" fill="#f23645" stroke="#f23645" stroke-width="0.3" textLength="44.2" lengthAdjust="spacingAndGlyphs">−44.89</text>
<text x="634.7" y="25.5" fill="#f23645" stroke="#f23645" stroke-width="0.3" textLength="54.8" lengthAdjust="spacingAndGlyphs">(−1.06%)</text>
<text x="11.2" y="46.6" fill="#131722" stroke="#131722" stroke-width="0.3" textLength="112.1" lengthAdjust="spacingAndGlyphs">MA (50, close, 0)</text>
<text x="133" y="46.6" fill="#f23645" stroke="#f23645" stroke-width="0.3" textLength="52.1" lengthAdjust="spacingAndGlyphs">4182.58</text>
<text x="11.2" y="67.5" fill="#131722" stroke="#131722" stroke-width="0.3" textLength="112.1" lengthAdjust="spacingAndGlyphs">MA (21, close, 0)</text>
<text x="133" y="67.5" fill="#2962ff" stroke="#2962ff" stroke-width="0.3" textLength="52.1" lengthAdjust="spacingAndGlyphs">4291.07</text>
<text x="11.2" y="88.5" fill="#131722" stroke="#131722" stroke-width="0.3" textLength="119.6" lengthAdjust="spacingAndGlyphs">MA (100, close, 0)</text>
<text x="140.9" y="88.5" fill="#2a1ef0" stroke="#2a1ef0" stroke-width="0.3" textLength="52.1" lengthAdjust="spacingAndGlyphs">4050.98</text>
<text x="11.2" y="523.6" fill="#131722" stroke="#131722" stroke-width="0.3" textLength="51" lengthAdjust="spacingAndGlyphs">RSI (14)</text>
<text x="71.5" y="523.6" fill="#a855c9" stroke="#a855c9" stroke-width="0.3" textLength="37" lengthAdjust="spacingAndGlyphs">43.86</text>
<text x="1566.1" y="45.55" fill="#131722" stroke="#131722" stroke-width="0.3" textLength="52.7" lengthAdjust="spacingAndGlyphs">4400.00</text>
<text x="1566.1" y="102.7" fill="#131722" stroke="#131722" stroke-width="0.3" textLength="52.7" lengthAdjust="spacingAndGlyphs">4300.00</text>
<text x="1566.1" y="159.85000000000002" fill="#131722" stroke="#131722" stroke-width="0.3" textLength="52.7" lengthAdjust="spacingAndGlyphs">4200.00</text>
<text x="1566.1" y="217.0" fill="#131722" stroke="#131722" stroke-width="0.3" textLength="52.7" lengthAdjust="spacingAndGlyphs">4100.00</text>
<text x="1566.1" y="274.15000000000003" fill="#131722" stroke="#131722" stroke-width="0.3" textLength="52.7" lengthAdjust="spacingAndGlyphs">4000.00</text>
<text x="1566.1" y="331.35" fill="#131722" stroke="#131722" stroke-width="0.3" textLength="52.7" lengthAdjust="spacingAndGlyphs">3900.00</text>
<text x="1566.1" y="388.5" fill="#131722" stroke="#131722" stroke-width="0.3" textLength="52.7" lengthAdjust="spacingAndGlyphs">3800.00</text>
<text x="1566.1" y="445.65000000000003" fill="#131722" stroke="#131722" stroke-width="0.3" textLength="52.7" lengthAdjust="spacingAndGlyphs">3700.00</text>
<text x="1565.8" y="552.75" fill="#131722" stroke="#131722" stroke-width="0.3" textLength="36.8" lengthAdjust="spacingAndGlyphs">80.00</text>
<text x="1565.8" y="623.55" fill="#131722" stroke="#131722" stroke-width="0.3" textLength="36.8" lengthAdjust="spacingAndGlyphs">60.00</text>
<text x="1565.8" y="695.4499999999999" fill="#131722" stroke="#131722" stroke-width="0.3" textLength="36.8" lengthAdjust="spacingAndGlyphs">40.00</text>
<path d="M1556 93H1624a2 2 0 0 1 2 2V112a2 2 0 0 1 -2 2H1556z" fill="#2962ff"/>
<text x="1565.8" y="108.8" fill="#ffffff" stroke="#ffffff" stroke-width="0.3" textLength="52.9" lengthAdjust="spacingAndGlyphs">4291.07</text>
<path d="M1556 140H1624a2 2 0 0 1 2 2V159a2 2 0 0 1 -2 2H1556z" fill="#f23645"/>
<text x="1565.8" y="155.8" fill="#ffffff" stroke="#ffffff" stroke-width="0.3" textLength="52.9" lengthAdjust="spacingAndGlyphs">4208.62</text>
<path d="M1556 161H1624a2 2 0 0 1 2 2V180a2 2 0 0 1 -2 2H1556z" fill="#f23645"/>
<text x="1565.8" y="176.8" fill="#ffffff" stroke="#ffffff" stroke-width="0.3" textLength="52.9" lengthAdjust="spacingAndGlyphs">4182.58</text>
<path d="M1556 230H1624a2 2 0 0 1 2 2V249a2 2 0 0 1 -2 2H1556z" fill="#2a1ef0"/>
<text x="1565.8" y="245.8" fill="#ffffff" stroke="#ffffff" stroke-width="0.3" textLength="52.9" lengthAdjust="spacingAndGlyphs">4050.98</text>
<path d="M1556 666H1608a2 2 0 0 1 2 2V685a2 2 0 0 1 -2 2H1556z" fill="#a855c9"/>
<text x="1565.8" y="681.8" fill="#ffffff" stroke="#ffffff" stroke-width="0.3" textLength="36.8" lengthAdjust="spacingAndGlyphs">43.86</text>
<text x="137.65" y="769.5" fill="#131722" stroke="#131722" stroke-width="0.3" textLength="23.7" lengthAdjust="spacingAndGlyphs" font-weight="bold">Oct</text>
<text x="263.55" y="769.5" fill="#131722" stroke="#131722" stroke-width="0.3" textLength="7.9" lengthAdjust="spacingAndGlyphs">3</text>
<text x="391.55" y="769.5" fill="#131722" stroke="#131722" stroke-width="0.3" textLength="7.9" lengthAdjust="spacingAndGlyphs">7</text>
<text x="509.55" y="769.5" fill="#131722" stroke="#131722" stroke-width="0.3" textLength="7.9" lengthAdjust="spacingAndGlyphs">9</text>
<text x="624.7" y="769.5" fill="#131722" stroke="#131722" stroke-width="0.3" textLength="15.6" lengthAdjust="spacingAndGlyphs">11</text>
<text x="753.7" y="769.5" fill="#131722" stroke="#131722" stroke-width="0.3" textLength="15.6" lengthAdjust="spacingAndGlyphs">15</text>
<text x="871.7" y="769.5" fill="#131722" stroke="#131722" stroke-width="0.3" textLength="15.6" lengthAdjust="spacingAndGlyphs">17</text>
<text x="999.7" y="769.5" fill="#131722" stroke="#131722" stroke-width="0.3" textLength="15.6" lengthAdjust="spacingAndGlyphs">21</text>
<text x="1117.7" y="769.5" fill="#131722" stroke="#131722" stroke-width="0.3" textLength="15.6" lengthAdjust="spacingAndGlyphs">23</text>
<text x="1236.7" y="769.5" fill="#131722" stroke="#131722" stroke-width="0.3" textLength="15.6" lengthAdjust="spacingAndGlyphs">25</text>
<text x="1354.7" y="769.5" fill="#131722" stroke="#131722" stroke-width="0.3" textLength="15.6" lengthAdjust="spacingAndGlyphs">27</text>
<text x="1472.7" y="769.5" fill="#131722" stroke="#131722" stroke-width="0.3" textLength="15.6" lengthAdjust="spacingAndGlyphs">29</text>
</svg></body></html>
